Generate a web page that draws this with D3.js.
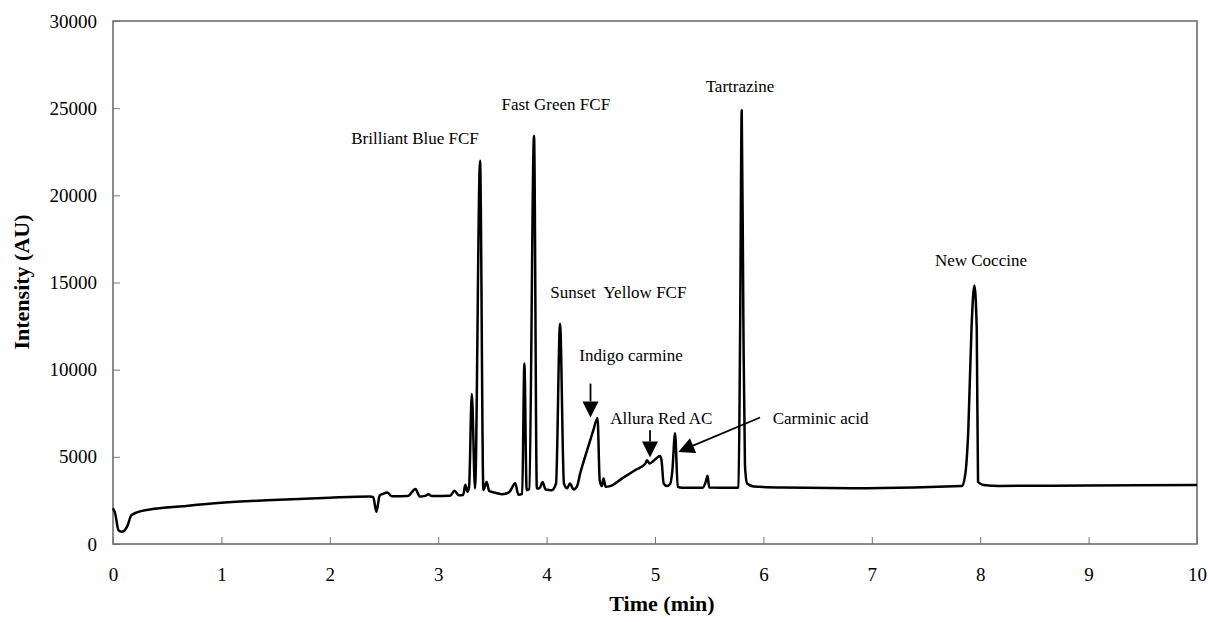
<!DOCTYPE html>
<html>
<head>
<meta charset="utf-8">
<script src="https://cdn.jsdelivr.net/npm/d3@7"></script>
<style>
  body { margin: 0; background: #fff; }
  svg text { font-family: "Liberation Serif", "Times New Roman", serif; }
</style>
</head>
<body>
<svg id="chart"></svg>
<script>
// chromatogram trace (time in min, intensity in AU)
const time = [0.00, 0.02, 0.05, 0.08, 0.13, 0.17, 0.22, 0.34, 0.65, 1.00, 1.42, 2.00, 2.37, 2.40, 2.43, 2.46, 2.49, 2.53, 2.57,
  2.72, 2.79, 2.83, 2.88, 2.91, 2.94, 3.11, 3.15, 3.19, 3.23, 3.25, 3.27, 3.285, 3.31, 3.34, 3.386, 3.417, 3.447, 3.47,
  3.52, 3.585, 3.63, 3.66, 3.71, 3.74, 3.775, 3.795, 3.816, 3.84, 3.884, 3.91, 3.935, 3.964, 3.99, 4.047, 4.087, 4.124,
  4.16, 4.19, 4.215, 4.25, 4.28, 4.31, 4.35, 4.40, 4.43, 4.47, 4.49, 4.51, 4.525, 4.545, 4.585, 4.70, 4.82, 4.91, 4.925,
  4.95, 5.00, 5.046, 5.06, 5.08, 5.11, 5.14, 5.16, 5.185, 5.21, 5.25, 5.44, 5.47, 5.485, 5.50, 5.75, 5.77, 5.785, 5.80,
  5.815, 5.83, 5.85, 5.91, 6.18, 6.95, 7.83, 7.86, 7.89, 7.92, 7.946, 7.968, 7.98, 8.03, 8.18, 9.00, 10.00];
const intensity = [2050, 1750, 800, 700, 1000, 1650, 1810, 1980, 2170, 2360, 2510, 2660, 2720, 2700, 1850, 2780, 2880, 2960, 2740,
  2750, 3150, 2730, 2760, 2860, 2750, 2770, 3050, 2800, 2810, 3400, 3000, 3300, 8600, 3190, 21980, 3100, 3550, 3050,
  2950, 2860, 2900, 3000, 3490, 2830, 2880, 10350, 3090, 3150, 23400, 3190, 3200, 3560, 3130, 3090, 3470, 12630,
  3470, 3200, 3470, 3130, 3300, 4050, 4900, 5900, 6500, 7230, 3660, 3320, 3760, 3280, 3320, 3780, 4250, 4600, 4800,
  4620, 4850, 5050, 4800, 3470, 3320, 3450, 4200, 6350, 3280, 3230, 3230, 3600, 3920, 3240, 3220, 3250, 12000, 24880,
  13000, 4500, 3470, 3300, 3240, 3200, 3320, 3900, 6500, 12400, 14830, 12400, 3570, 3380, 3330, 3360, 3380];

const xTicks = [0, 1, 2, 3, 4, 5, 6, 7, 8, 9, 10];
const yTicks = [0, 5000, 10000, 15000, 20000, 25000, 30000];

// peak names and where their text sits (data units)
const peakNames = ["Brilliant Blue FCF", "Fast Green FCF", "Sunset  Yellow FCF", "Indigo carmine",
  "Allura Red AC", "Tartrazine", "New Coccine", "Carminic acid"];
const labelTime = [2.786, 4.085, 4.662, 4.779, 5.058, 5.784, 8.007, 6.086];
const labelIntensity = [22970, 24916, 14130, 10505, 6881, 25923, 15944, 6898];

// arrows: from -> tip (data units)
const arrowFrom = [[4.405, 9200], [4.954, 6527], [5.969, 7254]];
const arrowTip = [[4.405, 7254], [4.954, 4964], [5.215, 5284]];

const W = 1208, H = 622;
const margin = { top: 21, right: 11, bottom: 78, left: 113 };
const width = W - margin.left - margin.right;
const height = H - margin.top - margin.bottom;

const svg = d3.select("#chart").attr("width", W).attr("height", H);
const g = svg.append("g").attr("transform", `translate(${margin.left},${margin.top})`);

const x = d3.scaleLinear().domain([0, 10]).range([0, width]);
const y = d3.scaleLinear().domain([0, 30000]).range([height, 0]);

// axes with inward ticks
const xAxis = g.append("g")
  .attr("transform", `translate(0,${height})`)
  .call(d3.axisBottom(x).tickValues(xTicks).tickFormat(d3.format("d"))
    .tickSizeInner(-7).tickSizeOuter(0).tickPadding(24));
const yAxis = g.append("g")
  .call(d3.axisLeft(y).tickValues(yTicks).tickFormat(d3.format("d"))
    .tickSizeInner(-7).tickSizeOuter(0).tickPadding(16));
[xAxis, yAxis].forEach(a => {
  a.select(".domain").remove();
  a.selectAll("line").attr("stroke", "#777");
  a.selectAll("text").attr("fill", "#000").style("font-size", "19px")
    .style("font-family", '"Liberation Serif", "Times New Roman", serif');
});

// plot frame
g.append("rect")
  .attr("width", width).attr("height", height)
  .attr("fill", "none").attr("stroke", "#6e6e6e").attr("stroke-width", 1.6);

// trace
const trace = time.map((t, i) => ({ t: t, v: intensity[i] }));
g.append("path")
  .datum(trace)
  .attr("fill", "none")
  .attr("stroke", "#000")
  .attr("stroke-width", 2.5)
  .attr("stroke-linejoin", "round")
  .attr("d", d3.line().x(d => x(d.t)).y(d => y(d.v)).curve(d3.curveMonotoneX));

// peak labels
peakNames.forEach((name, i) => {
  g.append("text")
    .attr("x", x(labelTime[i]))
    .attr("y", y(labelIntensity[i]))
    .attr("text-anchor", i === 7 ? "start" : "middle")
    .style("font-size", "17px")
    .style("white-space", "pre")
    .text(name);
});

// arrows
arrowFrom.forEach((f, i) => {
  const x0 = x(f[0]), y0 = y(f[1]);
  const x1 = x(arrowTip[i][0]), y1 = y(arrowTip[i][1]);
  const ang = Math.atan2(y1 - y0, x1 - x0);
  const len = 16, half = 8;
  const bx = x1 - len * Math.cos(ang), by = y1 - len * Math.sin(ang);
  g.append("line")
    .attr("x1", x0).attr("y1", y0).attr("x2", bx).attr("y2", by)
    .attr("stroke", "#000").attr("stroke-width", 1.8);
  const px = -Math.sin(ang) * half, py = Math.cos(ang) * half;
  g.append("path")
    .attr("d", `M${x1},${y1}L${bx + px},${by + py}L${bx - px},${by - py}Z`)
    .attr("fill", "#000");
});

// axis titles
svg.append("text")
  .attr("x", 662).attr("y", 611)
  .attr("text-anchor", "middle")
  .style("font-size", "22px").style("font-weight", "bold")
  .text("Time (min)");
svg.append("text")
  .attr("transform", "translate(29,282) rotate(-90)")
  .attr("text-anchor", "middle")
  .style("font-size", "22px").style("font-weight", "bold")
  .text("Intensity (AU)");
</script>
</body>
</html>
